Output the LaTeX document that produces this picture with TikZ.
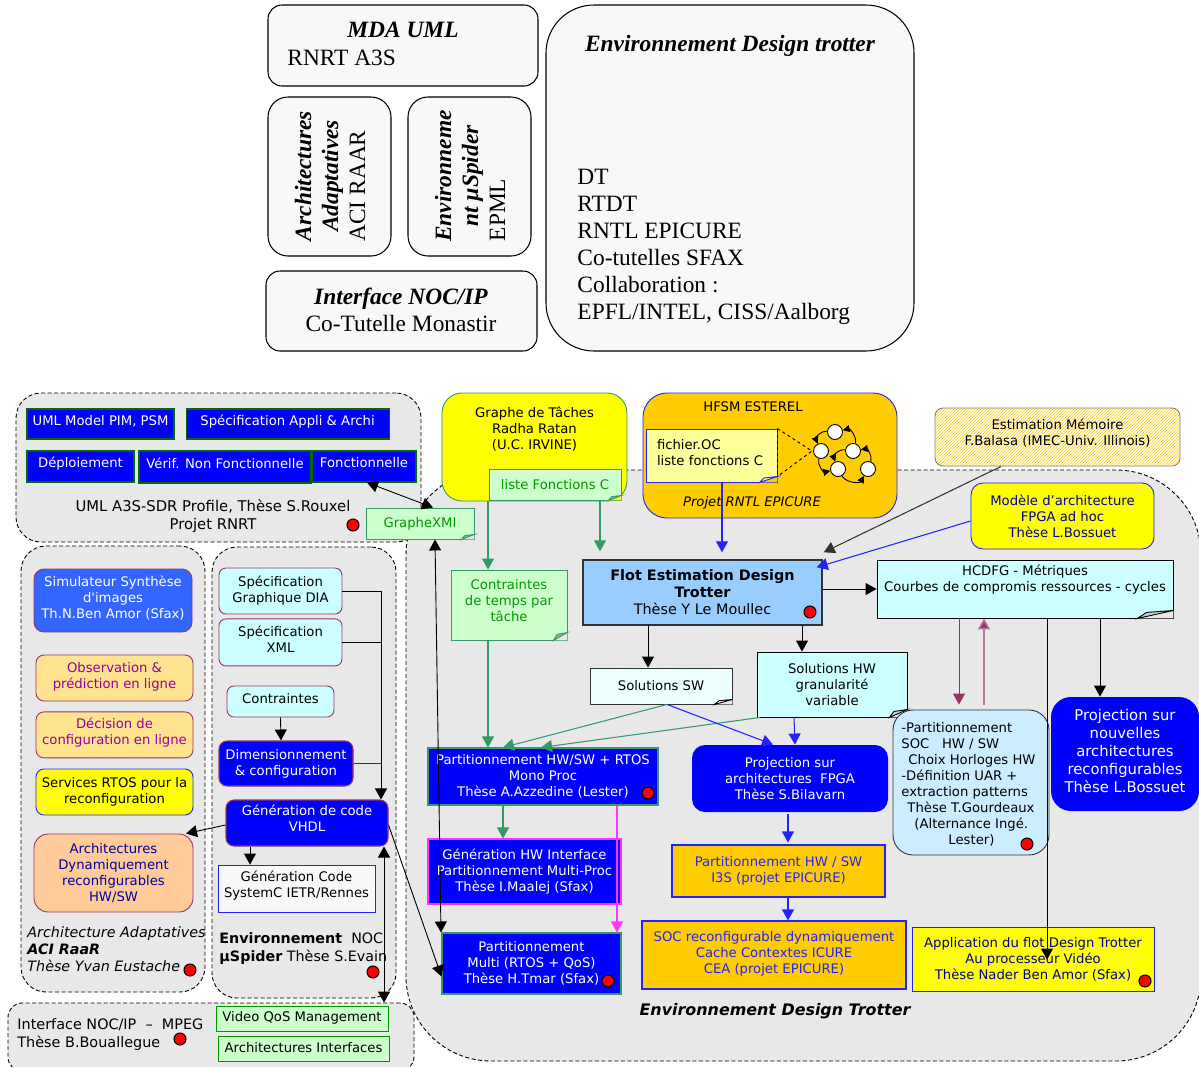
\documentclass[tikz,border=0pt]{standalone}
\usepackage{fontspec}
\setmainfont{DejaVu Sans}
\newfontfamily\serifface{Liberation Serif}
\usetikzlibrary{arrows.meta,patterns,positioning}
\definecolor{panelgray}{HTML}{E8E8E8}
\definecolor{topgray}{HTML}{F8F8F8}
\definecolor{darkblue}{HTML}{0000FF}
\definecolor{linkblue}{HTML}{2222FF}
\definecolor{seagreen}{HTML}{339966}
\definecolor{notegreen}{HTML}{CCFFCC}
\definecolor{textgreen}{HTML}{009900}
\definecolor{plum}{HTML}{993366}
\definecolor{paleplum}{HTML}{B9769C}
\definecolor{palecyan}{HTML}{CCFFFF}
\definecolor{skyblue}{HTML}{99CCFF}
\definecolor{iceblue}{HTML}{CCECFF}
\definecolor{gold}{HTML}{FFCC00}
\definecolor{sand}{HTML}{FFE38F}
\definecolor{peach}{HTML}{FFCC99}
\definecolor{simblue}{HTML}{3366FF}
\definecolor{navytext}{HTML}{000099}
\definecolor{dusk}{HTML}{333333}
\definecolor{lemon}{HTML}{FFFF00}
\definecolor{paleyellow}{HTML}{FFFF99}
\definecolor{fuchsia}{HTML}{FF33FF}
\definecolor{purpletext}{HTML}{990099}
\tikzset{
	sized/.style 2 args={minimum width=#1pt,minimum height=#2pt},
	textup/.style={text depth=#1pt},
	thick/.style={line width=1.05pt},
	every node/.style={inner sep=0pt,align=center,font=\fontsize{13.2}{16}\selectfont},
	panel/.style={draw=black,dash pattern=on 4pt off 2.5pt,fill=panelgray,rounded corners=#1pt},
	topbox/.style={draw=black,fill=topgray,rounded corners=#1pt,thick},
	toptext/.style={font=\serifface\fontsize{23.4}{27}\selectfont},
	umlbox/.style={draw=textgreen!70!black,fill=darkblue,text=white,thick},
	bluebox/.style={draw=plum,fill=darkblue,text=white,rounded corners=8pt,thick},
	cyanbox/.style={draw=plum,fill=palecyan,rounded corners=7pt},
	sandbox/.style={draw=plum,fill=sand,text=purpletext,rounded corners=8pt},
	notebox/.style={draw=seagreen,fill=notegreen,text=textgreen},
	thesis/.style={draw=seagreen,fill=darkblue,text=white,thick},
	goldbox/.style={draw=linkblue,fill=gold,text=linkblue,thick},
	reddot/.style={circle,fill=red,draw=black,minimum size=12pt,thick},
	fsmstate/.style={circle,fill=white,draw=black,minimum size=15pt},
	>={Triangle[length=11pt,width=12pt]},
	fsmlink/.style={-{Triangle[length=7pt,width=7pt]},black},
}
\newcommand{\dogear}[6][panelgray]{
	\fill[#1] ([xshift=-#3pt]#2.south east) -- (#2.south east) -- ([yshift=#4pt]#2.south east) -- cycle;
	\draw[fill=#5,draw=#6] ([xshift=-#3pt]#2.south east) -- ([yshift=#4pt]#2.south east) -- ([xshift=-.75*#3pt,yshift=.75*#4pt]#2.south east) -- cycle;
}
\begin{document}
\begin{tikzpicture}[x=1pt,y=-1pt,line width=.9pt]
	\clip (0,0) rectangle (1199,1066);

	% upper summary
	\node[topbox=14,sized={270}{81}] (mda) at (403,45.5) {};
	\node[toptext,font=\serifface\bfseries\itshape\fontsize{23.4}{27}\selectfont] (mdaT) at (403,30) {MDA UML};
	\node[toptext,anchor=west] (mdaS) at (287,58) {RNRT A3S};
	\node[topbox=20,sized={123}{159}] (raar) at (329.5,176.5) {};
	\node[toptext,rotate=90] (raarT) at (330,176) {\bfseries\itshape Architectures\\ \bfseries\itshape Adaptatives\\ ACI RAAR\hspace*{20pt}};
	\node[topbox=20,sized={123}{159}] (spid) at (469.5,176.5) {};
	\node[toptext,rotate=90] (spidT) at (470,176) {\bfseries\itshape Environneme\\ \bfseries\itshape nt µSpider\\ EPML\hspace*{68pt}};
	\node[topbox=14,sized={271}{80}] (noc) at (401.5,311) {};
	\node[toptext] (nocT) at (401,310) {\bfseries\itshape Interface NOC/IP\\ Co-Tutelle Monastir};
	\node[topbox=48,sized={368}{346}] (edt) at (730,178) {};
	\node[toptext,font=\serifface\bfseries\itshape\fontsize{23.4}{27}\selectfont] (edtT) at (730,46) {Environnement Design trotter};
	\node[toptext,anchor=north west,align=left] (edtL) at (577,169) {DT\\ RTDT\\ RNTL EPICURE\\ Co-tutelles SFAX\\ Collaboration :\\ EPFL/INTEL, CISS/Aalborg};

	% dashed panels
	\node[panel=85,sized={795}{591}] (pEnv) at (803.5,765.5) {};
	\node[panel=25,sized={405}{149}] (pUml) at (218.5,467.5) {};
	\node[panel=25,sized={184}{446}] (pRaar) at (113,769) {};
	\node[panel=25,sized={184}{451}] (pSpid) at (304,772.5) {};
	\node[panel=14,sized={406}{68}] (pMpeg) at (211,1037) {};

	% UML group
	\node[umlbox,sized={147}{30},textup=8] (bPim) at (100.5,424) {UML Model PIM, PSM};
	\node[umlbox,sized={203}{30},textup=8,right=11pt of bPim] (bSpec) {Spécification Appli \& Archi};
	\node[umlbox,sized={107}{31},textup=8] (bDep) at (80.5,466.5) {Déploiement};
	\node[umlbox,sized={172}{32},textup=8] (bVer) at (225,467) {Vérif. Non Fonctionnelle};
	\node[umlbox,sized={104}{31},textup=8] (bFon) at (364,466.5) {Fonctionnelle};
	\node[font=\fontsize{14.8}{18}\selectfont] (tUml) at (213,516) {UML A3S-SDR Profile, Thèse S.Rouxel\\ Projet RNRT};
	\node[reddot] (dUml) at (353,525) {};
	\node[notebox,sized={108}{31}] (xmi) at (420,523.5) {GrapheXMI};

	% RaaR group
	\node[draw=plum,fill=simblue,text=white,rounded corners=10pt,sized={158}{63},textup=6] (bSim) at (113,600.5) {Simulateur Synthèse\\ d\textquotesingle images\\ Th.N.Ben Amor (Sfax)};
	\node[sandbox,sized={157}{46},textup=5] (bObs) at (114.5,678) {Observation \&\\ prédiction en ligne};
	\node[sandbox,sized={157}{46},textup=7,below=10pt of bObs] (bDec) {Décision de\\ configuration en ligne};
	\node[draw=linkblue,fill=lemon,rounded corners=8pt,sized={157}{46}] (bSrv) at (114.5,792) {Services RTOS pour la\\ reconfiguration};
	\node[draw=plum,fill=peach,text=navytext,rounded corners=14pt,sized={159}{78}] (bDyn) at (113.5,873) {Architectures\\ Dynamiquement\\ reconfigurables\\ HW/SW};
	\node[anchor=north west,align=left,font=\itshape\fontsize{14.3}{17}\selectfont] (tRaar) at (27,926) {Architecture Adaptatives\\ \bfseries ACI RaaR\\ Thèse Yvan Eustache};
	\node[reddot] (dRaar) at (190,970) {};

	% uSpider group
	\node[cyanbox,sized={123}{46}] (bDia) at (280.5,591) {Spécification\\ Graphique DIA};
	\node[cyanbox,sized={123}{47},textup=6,below=4pt of bDia] (bXml) {Spécification\\ XML};
	\node[cyanbox,sized={107}{31},textup=7] (bCon) at (280.5,701.5) {Contraintes};
	\node[bluebox,sized={134}{45}] (bDim) at (286,763.5) {Dimensionnement\\ \& configuration};
	\node[bluebox,sized={162}{46},textup=9] (bVhd) at (307,823) {Génération de code\\ VHDL};
	\node[draw=linkblue,fill=topgray,sized={157}{47},textup=9] (bSysc) at (296.5,888.5) {Génération Code\\ SystemC IETR/Rennes};
	\node[anchor=north west,align=left,font=\fontsize{14.3}{18}\selectfont] (tSpid) at (219,932) {\textbf{Environnement}\ \ NOC\\ \textbf{µSpider} Thèse S.Evain};
	\node[reddot] (dSpid) at (373,972) {};

	% MPEG group
	\node[anchor=north west,align=left,font=\fontsize{14.4}{18}\selectfont] (tMpeg) at (17,1018) {Interface NOC/IP\ \ –\ \ MPEG\\ Thèse B.Bouallegue};
	\node[reddot] (dMpeg) at (180,1039) {};
	\node[draw=textgreen,fill=notegreen,sized={172}{25},textup=5] (bQos) at (302,1018.5) {Video QoS Management};
	\node[draw=textgreen,fill=notegreen,sized={171}{25},textup=3] (bItf) at (303.5,1048.5) {Architectures Interfaces};

	% sources over the main panel
	\node[draw=seagreen,fill=lemon,rounded corners=20pt,sized={185}{108},textup=38] (bGra) at (534.5,447) {Graphe de Tâches\\ Radha Ratan\\ (U.C. IRVINE)};
	\node[notebox,sized={132}{31}] (bLst) at (555,484.5) {liste Fonctions C};
	\node[draw=linkblue,fill=gold,rounded corners=24pt,sized={254}{125}] (bHfs) at (770,455.5) {};
	\node (tHfs) at (753,407) {HFSM ESTEREL};
	\node[font=\itshape\fontsize{13.2}{16}\selectfont] (tEpi) at (752,503) {Projet RNTL EPICURE};
	\node[draw=linkblue,fill=paleyellow,sized={131}{53},text width=109pt,align=left,textup=23] (bOc) at (711.5,455.5) {fichier.OC\\ liste fonctions C};
	\coordinate (fsmFork) at (812,451);
	\draw[dashed] (bOc.north east) -- (fsmFork) -- ([yshift=6pt]bOc.south east);
	\draw[dashed] (bOc.north east) -- ([yshift=6pt]bOc.south east);
	\node[fsmstate] (s1) at (835,432) {};
	\node[fsmstate] (s2) at (821,451) {};
	\node[fsmstate] (s3) at (853,451) {};
	\node[fsmstate] (s4) at (838,469) {};
	\node[fsmstate] (s5) at (868,469) {};
	\path[fsmlink]
	(s1) edge [bend right=60] (s2)
	(s2) edge [bend right=60] (s4)
	(s4) edge [bend right=60] (s5)
	(s5) edge [bend right=60] (s3)
	(s3) edge [bend right=60] (s4)
	(s3) edge [bend right=60] (s1)
	;

	\node[draw=gray,preaction={fill=white},pattern=north east lines,pattern color=gold,rounded corners=8pt,sized={245}{58},textup=9] (bMem) at (1057.5,437) {Estimation Mémoire\\ F.Balasa (IMEC-Univ. Illinois)};
	\node[draw=linkblue,fill=lemon,text=navytext,rounded corners=12pt,sized={183}{66}] (bFpg) at (1062.5,516) {Modèle d’architecture\\ FPGA ad hoc\\ Thèse L.Bossuet};

	% main flow
	\node[draw=dusk,fill=skyblue,line width=1.4pt,sized={239}{65},font=\fontsize{14.4}{17}\selectfont] (flot) at (702.5,592.5) {\textbf{Flot Estimation Design}\\ \textbf{Trotter}\\ Thèse Y Le Moullec};
	\node[reddot] (dFlot) at (810,612) {};
	\node[draw=black,fill=palecyan,sized={296}{58},textup=21] (hcd) at (1025,589) {HCDFG - Métriques\\ Courbes de compromis ressources - cycles};
	\node[notebox,sized={116}{70},textup=9] (bTmp) at (509,605) {Contraintes\\ de temps par\\ tâche};
	\node[draw=dusk,preaction={fill=white},pattern=north west lines,pattern color=palecyan,sized={142}{36}] (bSw) at (661,686) {Solutions SW};
	\node[draw=black,fill=palecyan,sized={150}{65}] (bHw) at (832,684.5) {Solutions HW\\ granularité\\ variable};
	\dogear{bHw}{18}{8}{palecyan!70!gray}{black}
	\node[thesis,sized={230}{57}] (bPart) at (543,776.5) {Partitionnement HW/SW + RTOS\\ Mono Proc\\ Thèse A.Azzedine (Lester)};
	\node[reddot] (dPart) at (648,793) {};
	\node[thesis,draw=fuchsia,sized={193}{65}] (bGen) at (524.5,871.5) {Génération HW Interface\\ Partitionnement Multi-Proc\\ Thèse I.Maalej (Sfax)};
	\node[thesis,sized={179}{61}] (bMul) at (531.5,963.5) {Partitionnement\\ Multi (RTOS + QoS)\\ Thèse H.Tmar (Sfax)\hspace{14pt}};
	\node[reddot] (dMul) at (608,981) {};
	\node[fill=darkblue,text=white,rounded corners=13pt,sized={196}{67}] (bPro) at (790,778.5) {Projection sur\\ architectures\ \ FPGA\\ Thèse S.Bilavarn};
	\node[goldbox,sized={213}{52}] (bI3s) at (778.5,871) {Partitionnement HW / SW\\ I3S (projet EPICURE)};
	\node[goldbox,sized={264}{68},textup=6] (bSoc) at (774,955) {SOC reconfigurable dynamiquement\\ Cache Contextes ICURE\\ CEA (projet EPICURE)};
	\node[draw=dusk,fill=iceblue,rounded corners=20pt,sized={156}{145}] (bSoC) at (971,782.5) {};
	\node[anchor=north west,align=left] (tSoC) at (901,722) {-Partitionnement\\ SOC\ \ \ HW / SW\\ \hspace{7pt}Choix Horloges HW\\ -Définition UAR +\\ extraction patterns\\ \hspace{6pt}Thèse T.Gourdeaux\\ \hspace{13pt}(Alternance Ingé.\\ \hspace{47pt}Lester)};
	\node[reddot] (dSoC) at (1027,844) {};
	\node[fill=darkblue,text=white,rounded corners=20pt,sized={148}{114},textup=7,font=\fontsize{14.8}{18}\selectfont] (bNew) at (1125,754) {Projection sur\\ nouvelles\\ architectures\\ reconfigurables\\ Thèse L.Bossuet};
	\node[draw=linkblue,fill=lemon,text=navytext,sized={242}{64}] (bApp) at (1033,959) {Application du flot Design Trotter\\ Au processeur Vidéo\\ Thèse Nader Ben Amor (Sfax)};
	\node[reddot] (dApp) at (1145,981) {};
	\node[font=\bfseries\itshape\fontsize{15.9}{18}\selectfont] (tEnv) at (775,1011) {Environnement Design Trotter};

	\dogear{xmi}{13}{5}{notegreen!70!black}{seagreen}
	\dogear[lemon]{bLst}{13}{5}{notegreen!70!black}{seagreen}
	\dogear[gold]{bOc}{18}{6}{paleyellow}{linkblue}
	\dogear{hcd}{36}{8}{palecyan!70!gray}{black}
	\dogear{bTmp}{14}{8}{notegreen!70!black}{seagreen}
	\dogear{bSw}{18}{5}{white}{black}

	% connectors
	\path[<->,black]
	([xshift=3pt]bFon.south) edge ([xshift=13pt]xmi.north)
	([xshift=15pt]xmi.south) edge ([xshift=-90.5pt]bMul.north)
	([xshift=77pt]bVhd.south) edge [shorten >=3pt] ([xshift=82pt]bQos.north)
	;
	\coordinate (busDrop) at ([xshift=74pt]bVhd.north);
	\draw[->] (bDia.east) -| (busDrop);
	\draw (bXml.east) -- (bXml.east -| busDrop);
	\draw[dusk] (bDim.east) -- (bDim.east -| busDrop);
	\path[->]
	(bCon.south) edge ([xshift=-5pt]bDim.north)
	([yshift=-2pt]bVhd.west) edge ([xshift=72.5pt]bDyn.north)
	([xshift=-57pt]bVhd.south) edge ([xshift=-46.5pt]bSysc.north)
	([yshift=-2pt]bVhd.east) edge ([yshift=-13pt]bMul.west)
	([xshift=-54.5pt]flot.south) edge ([xshift=-13pt]bSw.north)
	([xshift=99.5pt]flot.south) edge ([xshift=-30pt]bHw.north)
	(flot.east |- hcd.west) edge (hcd.west)
	([xshift=75pt]hcd.south) edge ([xshift=-25pt]bNew.north)
	([xshift=22pt]hcd.south) edge ([xshift=14pt,yshift=-33pt]bApp.north)
	;
	\path[->,seagreen,thick]
	([xshift=-46.5pt]bGra.south) edge ([xshift=-21pt]bTmp.north)
	([xshift=45pt]bLst.south) edge [shorten >=8pt] ([xshift=-102.5pt]flot.north)
	([xshift=-21pt]bTmp.south) edge ([xshift=-55pt]bPart.north)
	([xshift=6pt]bSw.south) edge ([xshift=-40pt]bPart.north)
	([xshift=-72pt]bHw.south) edge ([xshift=-2pt]bPart.north)
	([xshift=-40pt]bPart.south) edge ([xshift=-21.5pt]bGen.north)
	;
	\path[->,linkblue,thick]
	([xshift=10.5pt]bOc.south) edge [shorten >=7pt] ([xshift=19.5pt]flot.north)
	([yshift=-5pt]bFpg.west) edge ([xshift=-6pt,yshift=-8pt]flot.north east)
	([xshift=6pt]bSw.south) edge ([xshift=-17pt]bPro.north)
	([xshift=-38pt]bHw.south) edge ([xshift=5pt]bPro.north)
	([xshift=-2pt,yshift=-2pt]bPro.south) edge [shorten >=2pt] ([xshift=9.5pt]bI3s.north)
	([xshift=9.5pt]bI3s.south) edge ([xshift=14pt]bSoc.north)
	;
	\path[->,dusk,thick]
	([xshift=-56.5pt]bMem.south) edge ([xshift=1pt,yshift=7pt]flot.north east)
	;
	\path[->,fuchsia,thick]
	([xshift=74pt]bPart.south) edge ([xshift=85.5pt]bMul.north)
	;
	\path[->]
	([xshift=-66pt]hcd.south) edge [plum,shorten >=5pt] ([xshift=-12pt]bSoC.north)
	([xshift=13pt,yshift=5pt]bSoC.north) edge [paleplum,line width=1.4pt,-{Triangle[length=11pt,width=12pt,fill=plum]}] ([xshift=-41pt]hcd.south)
	;
\end{tikzpicture}
\end{document}
